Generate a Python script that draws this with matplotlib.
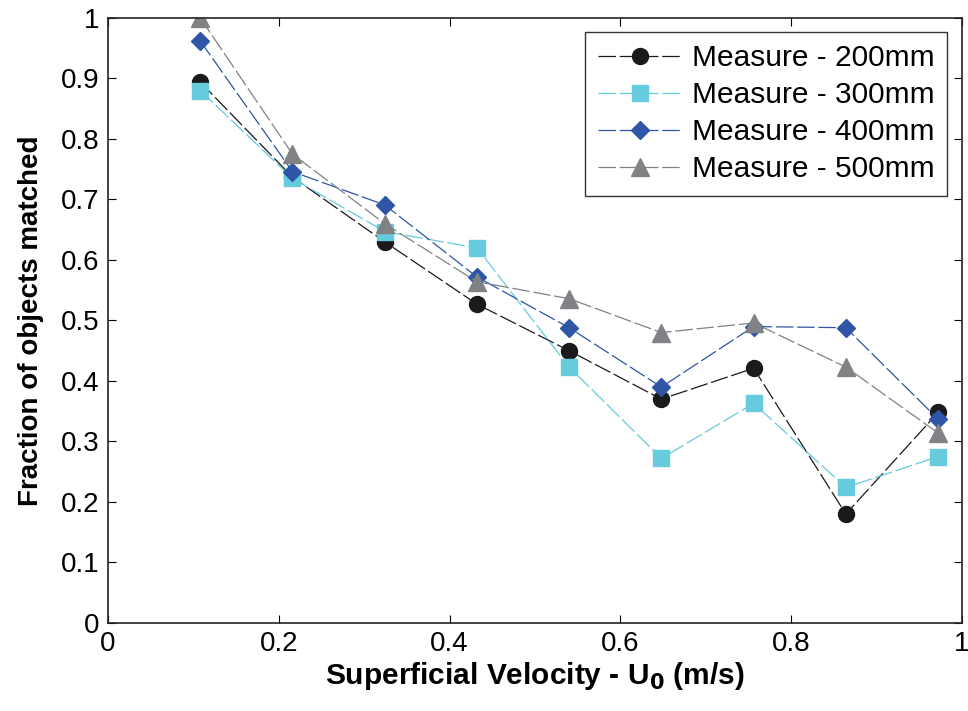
import matplotlib
matplotlib.use("Agg")
import matplotlib.pyplot as plt

plt.rcParams['font.family'] = ['Liberation Sans', 'DejaVu Sans']

velocity = [0.108, 0.216, 0.324, 0.432, 0.540, 0.648, 0.756, 0.864, 0.972]
measure_200 = [0.894, 0.737, 0.630, 0.527, 0.450, 0.370, 0.421, 0.180, 0.348]
measure_300 = [0.880, 0.735, 0.647, 0.620, 0.423, 0.272, 0.363, 0.224, 0.275]
measure_400 = [0.962, 0.746, 0.691, 0.572, 0.488, 0.390, 0.490, 0.488, 0.337]
measure_500 = [1.000, 0.775, 0.660, 0.564, 0.536, 0.480, 0.496, 0.423, 0.314]
labels = ['Measure - 200mm', 'Measure - 300mm', 'Measure - 400mm', 'Measure - 500mm']

series = [measure_200, measure_300, measure_400, measure_500]
colors = ['#1a1a1a', '#66cbdc', '#2e55a6', '#808285']
markers = ['o', 's', 'D', '^']
msizes = [11.5, 11, 9, 12.5]

fig = plt.figure(figsize=(9.68, 7.11), dpi=100)
ax = fig.add_axes([0.1116, 0.1238, 0.8822, 0.8509])

for ys, c, m, ms, lab in zip(series, colors, markers, msizes, labels):
    ax.plot(velocity, ys, color=c, marker=m, markersize=ms, markeredgecolor=c,
            markerfacecolor=c, linewidth=0.9, dashes=(14, 3), label=lab)

ax.set_xlim(0, 1)
ax.set_ylim(0, 1)
ax.set_xticks([0, 0.2, 0.4, 0.6, 0.8, 1])
ax.set_xticklabels(['0', '0.2', '0.4', '0.6', '0.8', '1'])
ax.set_yticks([i / 10 for i in range(11)])
ax.set_yticklabels(['0', '0.1', '0.2', '0.3', '0.4', '0.5', '0.6', '0.7', '0.8', '0.9', '1'])
ax.tick_params(direction='in', length=6, width=0.8, top=True, right=True,
               labelsize=20, pad=6)
for s in ax.spines.values():
    s.set_linewidth(1.2)
    s.set_color('#222222')

ax.set_xlabel('Superficial Velocity - U$_\\mathbf{0}$ (m/s)', fontsize=21.5,
              fontweight='bold', labelpad=2)
ax.set_ylabel('Fraction of objects matched', fontsize=20, fontweight='bold', labelpad=12)

leg = ax.legend(loc='upper right', fontsize=21.5, frameon=True, fancybox=False,
                edgecolor='black', handlelength=2.8, numpoints=1,
                borderpad=0.42, labelspacing=0.3, handletextpad=0.35,
                borderaxespad=0, bbox_to_anchor=(0.9824, 0.977))
leg.get_frame().set_linewidth(1.0)

fig.savefig('out.png', dpi=100)
